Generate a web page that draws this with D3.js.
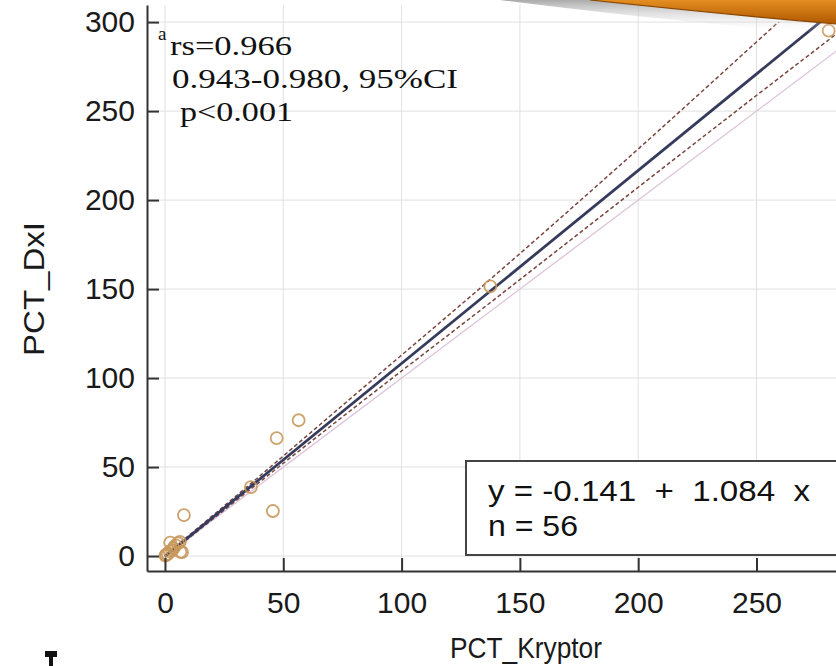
<!DOCTYPE html>
<html><head><meta charset="utf-8">
<script src="https://cdn.jsdelivr.net/npm/d3@7"></script>
<style>body{margin:0;background:#fff;}svg{display:block;}</style>
</head><body>
<svg id="c" width="836" height="666"></svg>
<script>
// ---- data ----
const pointsX = [280.5, 137.5, 56.5, 47.2, 45.6, 36.3, 8.0, 0.2, 0.5, 1.2, 2.0, 3.0, 3.6, 4.5, 5.5, 6.3, 6.5, 7.2, 2.2];
const pointsY = [295.2, 151.5, 76.3, 66.2, 25.3, 38.7, 23.0, 0.3, 0.8, 1.2, 2.6, 3.2, 4.5, 6.0, 7.2, 8.0, 2.4, 2.2, 7.5];
const intercept = -0.141, slope = 1.084;
const ciX = [0, 36, 80, 137, 200, 258, 290];
const ciUpper = [0.4, 40.4, 90.3, 154.9, 228.7, 298.5, 337.0];
const ciLower = [-0.6, 37.4, 83.4, 141.9, 207.2, 267.0, 299.7];
const xTicks = [0, 50, 100, 150, 200, 250];
const yTicks = [0, 50, 100, 150, 200, 250, 300];
const xTitle = "PCT_Kryptor", yTitle = "PCT_DxI";
const statLines = ["rs=0.966", "0.943-0.980, 95%CI", "p<0.001"];
const legendLines = ["y = -0.141  +  1.084  x", "n = 56"];

const svg = d3.select("#c");
const L = 147, R = 836, B = 571, T = 5;
const x = d3.scaleLinear().domain([-7.6, 283.6]).range([L, R]);
const y = d3.scaleLinear().domain([-8.4, 309.6]).range([B, T]);

// top banner decoration
const defs = svg.append("defs");
const og = defs.append("linearGradient").attr("id","og").attr("x1",0).attr("y1",0).attr("x2",0).attr("y2",1);
og.append("stop").attr("offset","0%").attr("stop-color","#e38d22");
og.append("stop").attr("offset","100%").attr("stop-color","#b05800");
const sg = defs.append("linearGradient").attr("id","sg").attr("x1",0).attr("y1",0).attr("x2",0).attr("y2",1);
sg.append("stop").attr("offset","0%").attr("stop-color","#8f8f8f").attr("stop-opacity",0.75);
sg.append("stop").attr("offset","100%").attr("stop-color","#ffffff").attr("stop-opacity",0);
defs.append("clipPath").attr("id","clip").append("rect")
  .attr("x", L).attr("y", y(300)).attr("width", R - L).attr("height", B - y(300));

// gridlines
const grid = svg.append("g");
grid.selectAll(".gx").data(xTicks).join("line")
  .attr("x1", d => x(d)).attr("x2", d => x(d)).attr("y1", B).attr("y2", T)
  .attr("stroke", "#e0e0e0").attr("stroke-width", 1);
grid.selectAll(".gy").data(yTicks).join("line")
  .attr("x1", L).attr("x2", R).attr("y1", d => y(d)).attr("y2", d => y(d))
  .attr("stroke", "#e0e0e0").attr("stroke-width", 1);

const plot = svg.append("g").attr("clip-path", "url(#clip)");
// identity line
plot.append("line")
  .attr("x1", x(0)).attr("y1", y(0)).attr("x2", x(290)).attr("y2", y(290))
  .attr("stroke", "#dcc3da").attr("stroke-width", 1.3);
// CI dashed
const lineGen = d3.line().x(d => x(d[0])).y(d => y(d[1])).curve(d3.curveMonotoneX);
[ciUpper, ciLower].forEach(arr => {
  plot.append("path").datum(ciX.map((v, i) => [v, arr[i]]))
    .attr("d", lineGen).attr("fill", "none")
    .attr("stroke", "#7a4640").attr("stroke-width", 1.5).attr("stroke-dasharray", "4,2.5");
});
// regression line
plot.append("line")
  .attr("x1", x(0)).attr("y1", y(intercept)).attr("x2", x(290)).attr("y2", y(intercept + slope * 290))
  .attr("stroke", "#363b5c").attr("stroke-width", 2.8);

// points
svg.append("g").selectAll("circle").data(pointsX.map((v, i) => [v, pointsY[i]])).join("circle")
  .attr("cx", d => x(d[0])).attr("cy", d => y(d[1])).attr("r", 6)
  .attr("fill", "none").attr("stroke", "#c8985c").attr("stroke-width", 1.8).attr("stroke-opacity", 0.9);

// axes
const sans = "Liberation Sans, Arial, sans-serif";
const yAxis = svg.append("g").attr("transform", `translate(${L},0)`)
  .call(d3.axisLeft(y).tickValues(yTicks).tickSizeInner(-12).tickSizeOuter(0).tickPadding(12));
const xAxis = svg.append("g").attr("transform", `translate(0,${B})`)
  .call(d3.axisBottom(x).tickValues(xTicks).tickSizeInner(-13).tickSizeOuter(0).tickPadding(21));
[yAxis, xAxis].forEach(g => {
  g.select(".domain").attr("stroke", "#333").attr("stroke-width", 2);
  g.selectAll(".tick line").attr("stroke", "#333").attr("stroke-width", 2);
  g.selectAll(".tick text").attr("font-family", sans)
    .attr("font-size", 30).attr("fill", "#1a1a1a");
});

// axis titles
svg.append("text").attr("x", 526).attr("y", 658).attr("text-anchor", "middle")
  .attr("font-family", sans).attr("font-size", 30).attr("fill", "#1a1a1a")
  .attr("textLength", 152).attr("lengthAdjust", "spacingAndGlyphs").text(xTitle);
svg.append("text").attr("transform", "translate(44,289) rotate(-90)").attr("text-anchor", "middle")
  .attr("font-family", sans).attr("font-size", 30).attr("fill", "#1a1a1a")
  .attr("textLength", 134).attr("lengthAdjust", "spacingAndGlyphs").text(yTitle);

// stats annotation (serif)
const serif = "Liberation Serif, Times New Roman, serif";
svg.append("text").attr("x", 158).attr("y", 40).attr("font-family", serif).attr("font-size", 19)
  .attr("fill", "#111").text("a");
const statPos = [[170, 55, 122], [172, 88, 286], [180, 121, 113]];
statLines.forEach((t, i) => {
  svg.append("text").attr("x", statPos[i][0]).attr("y", statPos[i][1])
    .attr("font-family", serif).attr("font-size", 28).attr("fill", "#111")
    .attr("textLength", statPos[i][2]).attr("lengthAdjust", "spacingAndGlyphs").text(t);
});

// legend box
svg.append("rect").attr("x", 466).attr("y", 461).attr("width", 380).attr("height", 94)
  .attr("fill", "#fff").attr("stroke", "#444").attr("stroke-width", 2);
const legPos = [[488, 501, 322], [488, 536, 90]];
legendLines.forEach((t, i) => {
  svg.append("text").attr("x", legPos[i][0]).attr("y", legPos[i][1])
    .attr("font-family", sans).attr("font-size", 29).attr("fill", "#111")
    .attr("xml:space", "preserve").style("white-space", "pre")
    .attr("textLength", legPos[i][2]).attr("lengthAdjust", "spacingAndGlyphs").text(t);
});

// banner decoration at top right
svg.append("path").attr("d", "M500,0 Q690,24 836,34 L836,0 Z").attr("fill", "url(#sg)");
svg.append("path").attr("d", "M590,0 Q730,15 836,24 L836,0 Z").attr("fill", "url(#og)");
svg.append("path").attr("d", "M590,0 Q730,15 836,24").attr("fill", "none").attr("stroke", "#8a4600").attr("stroke-width", 1.2);

// cropped glyph fragment bottom-left
svg.append("rect").attr("x", 45).attr("y", 651).attr("width", 12).attr("height", 6).attr("fill", "#111");
svg.append("rect").attr("x", 49).attr("y", 657).attr("width", 4).attr("height", 9).attr("fill", "#111");
</script>
</body></html>
